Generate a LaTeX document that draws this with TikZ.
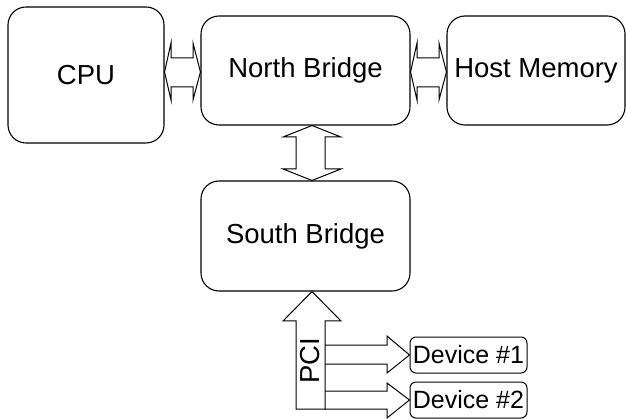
\documentclass[tikz,border=0pt]{standalone}
\usepackage{fontspec}
\setmainfont{Liberation Sans}
\begin{document}
\begin{tikzpicture}[x=1pt,y=-1pt,
  box/.style={draw, line width=1.1pt, rounded corners=18pt, inner sep=0pt, font=\fontsize{27.5}{30}\selectfont},
  devbox/.style={draw, line width=1pt, rounded corners=6pt, inner sep=0pt, minimum width=117pt, minimum height=36pt, font=\fontsize{25}{28}\selectfont},
  blk/.style={draw, line width=1pt, fill=white, line join=miter}]
\useasboundingbox (0,0) rectangle (626,419);
% boxes
\node[box, minimum width=156pt, minimum height=136pt] (cpu) at (86,75) {CPU};
\node[box, minimum width=209pt, minimum height=109pt] (nb) at (305.5,70.5) {North Bridge};
\node[box, minimum width=178pt, minimum height=109pt] (hm) at (536,70.5) {Host Memory};
\node[box, minimum width=209pt, minimum height=110pt] (sb) at (305.5,236) {South Bridge};
\node[devbox] (d1) at (468.5,355) {Device \#1};
\node[devbox] (d2) at (468.5,400) {Device \#2};
% CPU <-> North Bridge
\draw[blk] (cpu.east |- 0,72) -- (171,43) -- (171,58) -- (193,58) -- (193,43) -- (nb.west |- 0,72)
  -- (193,100) -- (193,87) -- (171,87) -- (171,100) -- cycle;
% North Bridge <-> Host Memory
\draw[blk] (nb.east |- 0,72) -- (417,43) -- (417,58) -- (439,58) -- (439,43) -- (hm.west |- 0,72)
  -- (439,100) -- (439,87) -- (417,87) -- (417,100) -- cycle;
% North Bridge <-> South Bridge
\draw[blk] (312,0 |- nb.south) -- (341,137) -- (325,137) -- (325,169) -- (341,169) -- (312,0 |- sb.north)
  -- (283,169) -- (296,169) -- (296,137) -- (283,137) -- cycle;
% PCI bus
\draw[blk] (312,0 |- sb.south) -- (341,321) -- (325,321) -- (325,409) -- (296,409) -- (296,321) -- (283,321) -- cycle;
\node[rotate=90, inner sep=0pt, font=\fontsize{27.5}{30}\selectfont] (pci) at (310,361) {PCI};
% branches
\draw[line width=1pt, line join=miter] (325,345) -- (387,345) -- (387,336) -- (d1.west) -- (387,373) -- (387,364) -- (325,364);
\draw[line width=1pt, line join=miter] (325,391) -- (387,391) -- (387,383) -- (d2.west) -- (387,418) -- (387,409) -- (325,409);
\end{tikzpicture}
\end{document}
